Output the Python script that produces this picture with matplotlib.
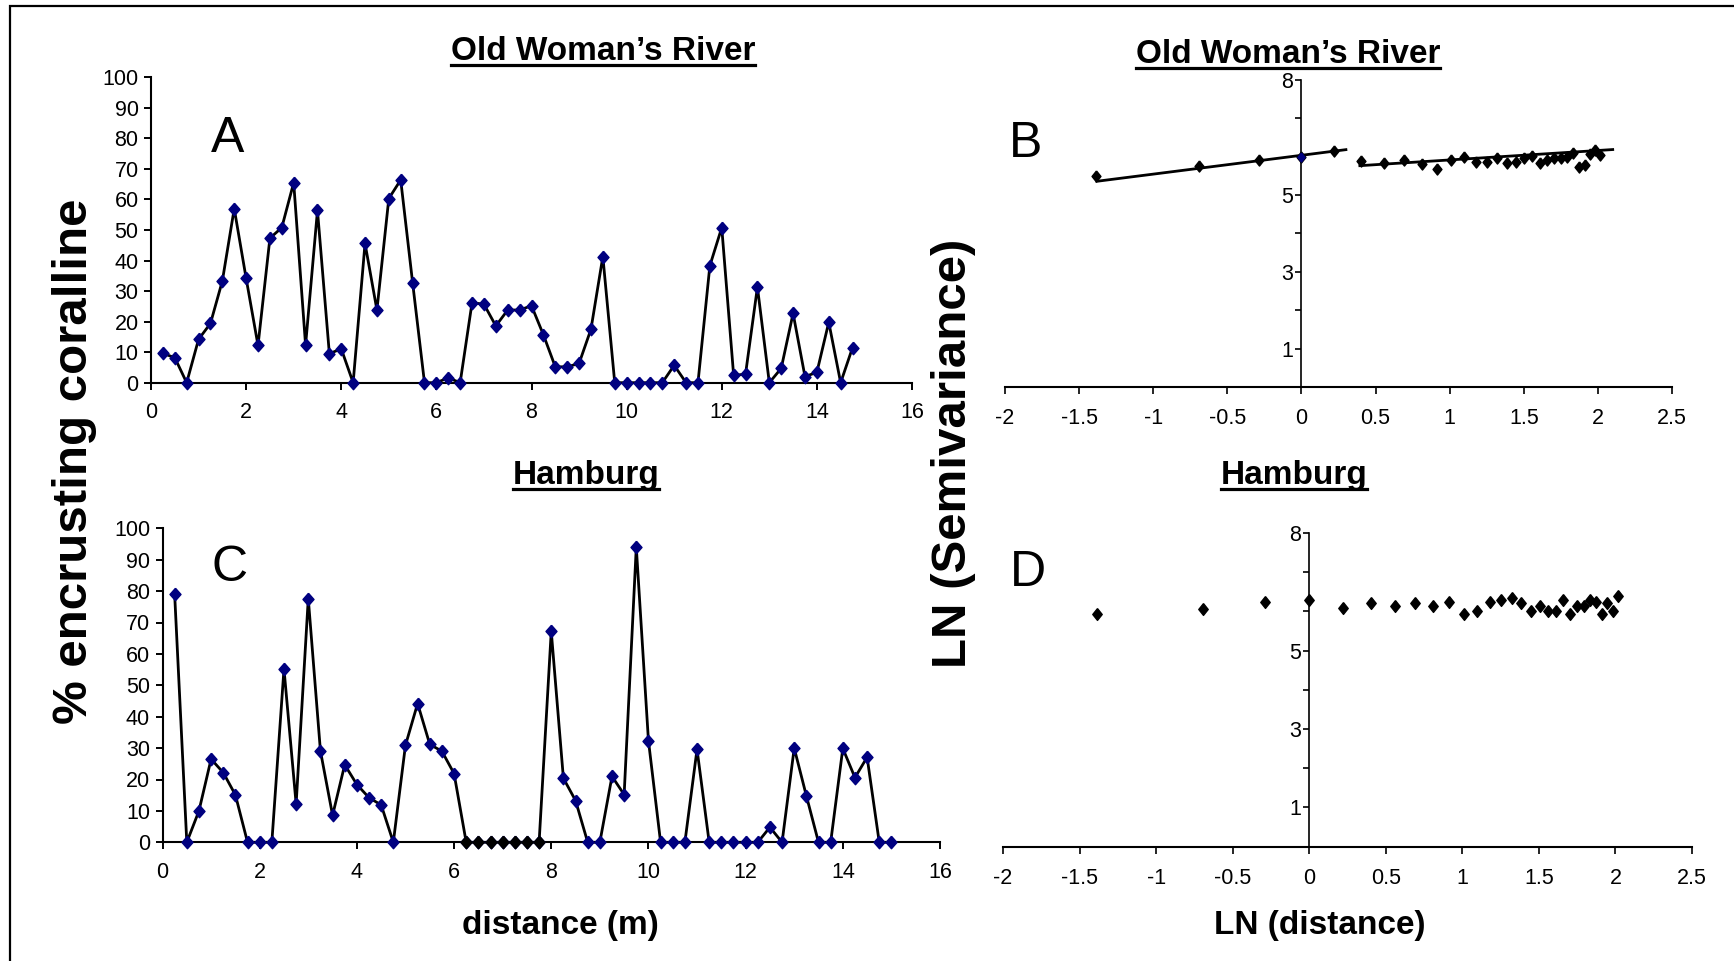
import matplotlib
matplotlib.use("Agg")
import matplotlib.pyplot as plt
from matplotlib.lines import Line2D
from matplotlib.patches import Rectangle

plt.rcParams['font.family'] = ['Liberation Sans', 'DejaVu Sans']
plt.rcParams['axes.unicode_minus'] = False

W, H = 1734, 961

# ---- data: % encrusting coralline along transects ----
dist_a = [0.25, 0.5, 0.75, 1.0, 1.25, 1.5, 1.75, 2.0, 2.25, 2.5, 2.75, 3.0, 3.25, 3.5, 3.75,
          4.0, 4.25, 4.5, 4.75, 5.0, 5.25, 5.5, 5.75, 6.0, 6.25, 6.5, 6.75, 7.0, 7.25, 7.5,
          7.75, 8.0, 8.25, 8.5, 8.75, 9.0, 9.25, 9.5, 9.75, 10.0, 10.25, 10.5, 10.75, 11.0,
          11.25, 11.5, 11.75, 12.0, 12.25, 12.5, 12.75, 13.0, 13.25, 13.5, 13.75, 14.0,
          14.25, 14.5, 14.75]
cover_a = [9.6, 8.2, 0, 14.2, 19.4, 33.3, 57.0, 34.2, 12.2, 47.3, 50.8, 65.5, 12.3, 56.4, 9.5,
           11.1, 0, 45.6, 23.8, 60.3, 66.4, 32.8, 0, 0, 1.6, 0, 26.2, 25.7, 18.6, 23.8,
           23.8, 25.2, 15.7, 5.2, 5.2, 6.3, 17.5, 41.3, 0, 0, 0, 0, 0, 5.7,
           0, 0, 38.3, 50.8, 2.4, 2.8, 31.3, 0, 4.7, 22.7, 2.0, 3.4,
           19.8, 0, 11.5]

dist_c = [0.25, 0.5, 0.75, 1.0, 1.25, 1.5, 1.75, 2.0, 2.25, 2.5, 2.75, 3.0, 3.25, 3.5, 3.75,
          4.0, 4.25, 4.5, 4.75, 5.0, 5.25, 5.5, 5.75, 6.0, 6.25, 6.5, 6.75, 7.0, 7.25, 7.5,
          7.75, 8.0, 8.25, 8.5, 8.75, 9.0, 9.25, 9.5, 9.75, 10.0, 10.25, 10.5, 10.75, 11.0,
          11.25, 11.5, 11.75, 12.0, 12.25, 12.5, 12.75, 13.0, 13.25, 13.5, 13.75, 14.0,
          14.25, 14.5, 14.75, 15.0]
cover_c = [79.0, 0, 10.0, 26.5, 22.2, 15.1, 0, 0, 0, 55.2, 12.2, 77.6, 29.1, 8.6, 24.7,
           18.4, 14.2, 11.9, 0, 30.9, 44.2, 31.2, 29.0, 21.9, 0, 0, 0, 0, 0, 0,
           0, 67.2, 20.4, 13.3, 0, 0, 21.0, 15.2, 94.0, 32.4, 0, 0, 0, 29.6,
           0, 0, 0, 0, 0, 4.8, 0, 30.0, 14.8, 0, 0, 29.9,
           20.6, 27.1, 0, 0]
# points drawn with black markers in panel C
black_dist_c = [6.25, 6.5, 6.75, 7.0, 7.25, 7.5, 7.75]
black_cover_c = [0, 0, 0, 0, 0, 0, 0]

# ---- data: LN(semivariance) vs LN(distance) ----
ln_dist_left = [-1.386, -0.693, -0.288, 0.0, 0.223]
ln_dist_right = [0.405, 0.560, 0.693, 0.811, 0.916, 1.012, 1.099, 1.179, 1.253, 1.322,
                 1.386, 1.447, 1.504, 1.558, 1.609, 1.658, 1.705, 1.749, 1.792, 1.833,
                 1.872, 1.910, 1.946, 1.981, 2.015]
ln_semi_b_left = [5.49, 5.76, 5.91, 5.98, 6.15]
ln_semi_b_right = [5.88, 5.83, 5.92, 5.80, 5.68, 5.92, 5.98, 5.86, 5.86, 5.96,
                   5.84, 5.86, 5.97, 6.01, 5.83, 5.92, 5.97, 5.97, 5.98, 6.09,
                   5.72, 5.78, 6.06, 6.17, 6.04]
# trend lines in B: slope, intercept, x range
trend_b_left = (0.49, 6.03, -1.38, 0.30)
trend_b_right = (0.246, 5.663, 0.394, 2.10)

ln_semi_d = [5.94, 6.05, 6.24, 6.28, 6.10, 6.21, 6.13, 6.21, 6.13, 6.24,
             5.94, 6.02, 6.24, 6.28, 6.33, 6.21, 6.02, 6.13, 6.02, 6.02,
             6.28, 5.94, 6.13, 6.13, 6.28, 6.24, 5.94, 6.21, 6.02, 6.40]

xticks_ac = [0, 2, 4, 6, 8, 10, 12, 14, 16]
yticks_ac = [0, 10, 20, 30, 40, 50, 60, 70, 80, 90, 100]
xticks_bd = [-2, -1.5, -1, -0.5, 0, 0.5, 1, 1.5, 2, 2.5]
xlabels_bd = ['-2', '-1.5', '-1', '-0.5', '0', '0.5', '1', '1.5', '2', '2.5']
yticks_bd = [1, 2, 3, 4, 5, 6, 7, 8]
ylabels_bd = ['1', '', '3', '', '5', '', '', '8']

NAVY = '#000080'
diamond = [(0, 1), (0.88, 0), (0, -1), (-0.88, 0), (0, 1)]
diamond2 = [(0, 1), (0.8, 0), (0, -1), (-0.8, 0), (0, 1)]


def rect(left, right, top, bottom):
    return [left / W, 1 - bottom / H, (right - left) / W, (bottom - top) / H]


fig = plt.figure(figsize=(W / 100, H / 100), dpi=100)

tick_fs = 15.5


def style_series_axes(ax):
    for s in ['top', 'right']:
        ax.spines[s].set_visible(False)
    for s in ['left', 'bottom']:
        ax.spines[s].set_linewidth(1.5)
    ax.set_xlim(0, 16)
    ax.set_ylim(0, 100)
    ax.set_xticks(xticks_ac)
    ax.set_yticks(yticks_ac)
    ax.tick_params(direction='out', length=5, width=1.4, labelsize=tick_fs)
    ax.tick_params(axis='x', pad=9)
    ax.tick_params(axis='y', pad=4)


def style_ln_axes(ax):
    for s in ['top', 'right']:
        ax.spines[s].set_visible(False)
    ax.spines['left'].set_position(('data', 0))
    ax.spines['left'].set_linewidth(1.2)
    ax.spines['bottom'].set_linewidth(1.5)
    ax.set_xlim(-2, 2.5)
    ax.set_ylim(0, 8)
    ax.set_xticks(xticks_bd)
    ax.set_xticklabels(xlabels_bd)
    ax.set_yticks(yticks_bd)
    ax.set_yticklabels(ylabels_bd)
    ax.tick_params(direction='out', width=1.2, labelsize=tick_fs)
    ax.tick_params(axis='x', length=5, pad=10)
    ax.tick_params(axis='y', length=4, pad=2)


# Panel A
axA = fig.add_axes(rect(151, 912, 77.3, 382.7))
axA.plot(dist_a, cover_a, color='black', lw=2.0, marker=diamond, ms=9,
         mfc=NAVY, mec=NAVY, clip_on=False, zorder=3)
style_series_axes(axA)

# Panel C
axC = fig.add_axes(rect(162.5, 940, 528.3, 842.3))
axC.plot(dist_c, cover_c, color='black', lw=2.0, marker=diamond, ms=9,
         mfc=NAVY, mec=NAVY, clip_on=False, zorder=3)
axC.plot(black_dist_c, black_cover_c, ls='none', marker=diamond, ms=9,
         mfc='black', mec='black', clip_on=False, zorder=4)
style_series_axes(axC)

# Panel B
axB = fig.add_axes(rect(1005, 1672, 79.6, 387))
for slope, icpt, x0, x1 in [trend_b_left, trend_b_right]:
    axB.plot([x0, x1], [slope * x0 + icpt, slope * x1 + icpt], color='black', lw=2.0, zorder=2)
axB.plot(ln_dist_left, ln_semi_b_left, ls='none', marker=diamond2, ms=8,
         color='black', zorder=3)
axB.plot(ln_dist_right, ln_semi_b_right, ls='none', marker=diamond2, ms=8,
         color='black', zorder=3)
axB.plot(ln_dist_left[3:4], ln_semi_b_left[3:4], ls='none', marker=diamond2, ms=6.5,
         color=NAVY, zorder=4)
style_ln_axes(axB)

# Panel D
axD = fig.add_axes(rect(1003, 1692, 533, 846.7))
axD.plot(ln_dist_left + ln_dist_right, ln_semi_d, ls='none', marker=diamond2, ms=8.5,
         color='black', zorder=3)
style_ln_axes(axD)


def ftext(x, y, s, **kw):
    return fig.text(x / W, 1 - y / H, s, **kw)


# panel letters
ftext(227.5, 151.5, 'A', fontsize=36, ha='center', va='baseline')
ftext(1026, 157, 'B', fontsize=36, ha='center', va='baseline')
ftext(230, 581, 'C', fontsize=36, ha='center', va='baseline')
ftext(1028, 586, 'D', fontsize=36, ha='center', va='baseline')

# underlined titles
titles = [(603, 60, 'Old Woman\u2019s River'), (1288, 63, 'Old Woman\u2019s River'),
          (586, 484, 'Hamburg'), (1294, 484, 'Hamburg')]
renderer = fig.canvas.get_renderer()
for x, y, s in titles:
    t = ftext(x, y, s, fontsize=24, fontweight='bold', ha='center', va='baseline')
    bb = t.get_window_extent(renderer=renderer)
    uy = 1 - (y + 4.5) / H
    fig.add_artist(Line2D([bb.x0 / W, bb.x1 / W], [uy, uy], transform=fig.transFigure,
                          color='black', lw=2.3))

# axis labels
ftext(75, 461, '% encrusting coralline', fontsize=35.5, fontweight='bold',
      rotation=90, ha='center', va='center')
ftext(953, 453, 'LN (Semivariance)', fontsize=35.5, fontweight='bold',
      rotation=90, ha='center', va='center')
ftext(560, 934, 'distance (m)', fontsize=24, fontweight='bold', ha='center', va='baseline')
ftext(1320, 934, 'LN (distance)', fontsize=24, fontweight='bold', ha='center', va='baseline')

# outer frame (runs off the right and bottom edge)
fig.patches.append(Rectangle((9.5 / W, -0.05), 1.2, 1.05 - 6.5 / H, transform=fig.transFigure,
                             fill=False, edgecolor='black', lw=1.6))

fig.savefig('out.png', dpi=100)
